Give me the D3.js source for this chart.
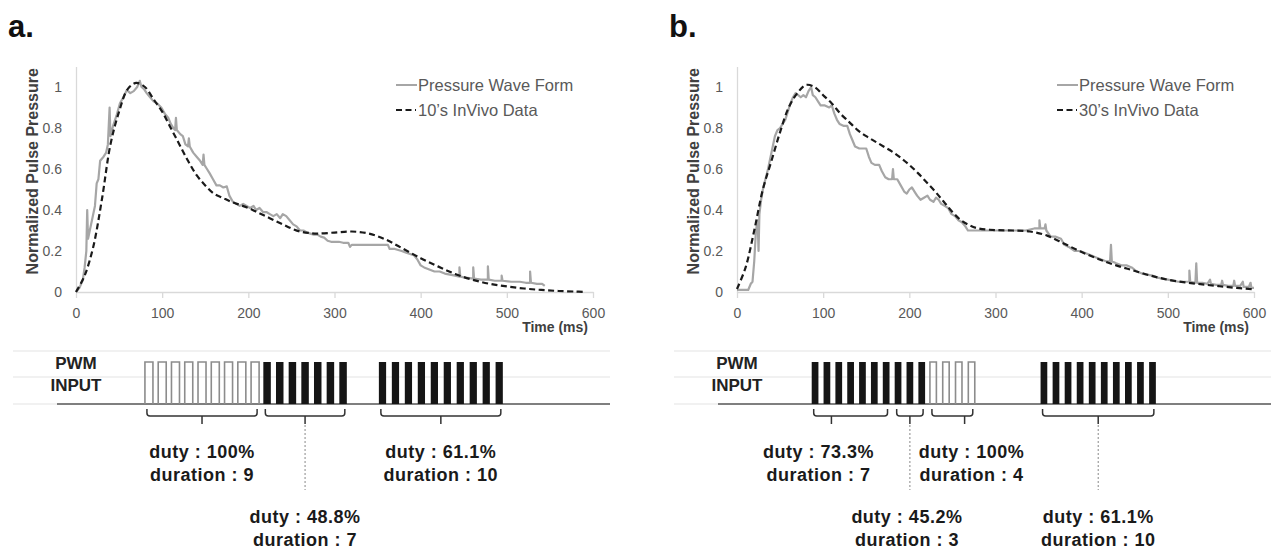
<!DOCTYPE html>
<html lang="en">
<head>
<meta charset="UTF-8">
<title>Pressure Wave Form vs PWM Input</title>
<script src="https://d3js.org/d3.v7.min.js"></script>
<style>
  body { margin: 0; background: #fff; font-family: "Liberation Sans", Arial, sans-serif; }
  svg { display: block; }
  .axis path, .axis line { stroke: #d9d9d9; stroke-width: 1.3px; }
  .axis text { fill: #595959; font-size: 14px; font-family: "Liberation Sans", Arial, sans-serif; }
  .panel-letter { font-size: 31px; font-weight: bold; fill: #111; }
  .y-title { font-size: 16px; font-weight: bold; fill: #404040; text-anchor: middle; }
  .x-title { font-size: 14px; font-weight: bold; fill: #404040; text-anchor: end; }
  .legend-text { font-size: 16.5px; fill: #595959; }
  .wave { fill: none; stroke: #a6a6a6; stroke-width: 2.2px; stroke-linejoin: round; }
  .fit { fill: none; stroke: #1a1a1a; stroke-width: 2.2px; stroke-dasharray: 6 3.5; }
  .strip { stroke: #ececec; stroke-width: 1.5px; }
  .baseline { stroke: #7f7f7f; stroke-width: 2px; }
  .pwm-label { font-size: 17px; font-weight: bold; fill: #222; text-anchor: middle; }
  .pulse-on { fill: #151515; }
  .pulse-hollow { fill: none; stroke: #8c8c8c; stroke-width: 1.6px; }
  .bracket { fill: none; stroke: #333; stroke-width: 1.5px; }
  .guide { stroke: #888; stroke-width: 1px; stroke-dasharray: 2 2; }
  .duty { font-size: 18px; font-weight: bold; fill: #1a1a1a; text-anchor: middle; letter-spacing: 0.5px; }
</style>
</head>
<body>
<svg id="fig" width="1271" height="550"></svg>
<script>
// axis ticks
const xTicks = [0, 100, 200, 300, 400, 500, 600];
const yTicks = [0, 0.2, 0.4, 0.6, 0.8, 1];

// panel a: measured pressure wave [ms, normalized]
const waveA = [[0,0],[4,0.02],[8,0.06],[10,0.12],[12,0.2],[13,0.4],[14,0.26],[16,0.3],[19,0.36],[22,0.42],[24,0.53],[26,0.55],
  [28,0.64],[32,0.66],[35,0.68],[37,0.72],[39,0.9],[40,0.76],[43,0.81],[47,0.86],[51,0.92],[55,0.95],[59,0.985],[63,0.97],
  [67,0.98],[71,1.0],[74,1.03],[76,1.0],[79,0.99],[82,0.97],[86,0.95],[90,0.93],[94,0.92],[99,0.9],[103,0.87],[107,0.85],
  [110,0.82],[113,0.8],[115,0.79],[116,0.85],[117,0.79],[121,0.77],[124,0.76],[127,0.72],[130,0.71],[131,0.75],[132,0.71],
  [136,0.68],[140,0.66],[144,0.64],[147,0.62],[148,0.67],[149,0.62],[152,0.6],[155,0.58],[159,0.55],[163,0.52],[167,0.52],
  [171,0.51],[175,0.515],[178,0.47],[182,0.44],[186,0.43],[190,0.42],[194,0.43],[198,0.42],[202,0.41],[206,0.42],[209,0.4],
  [213,0.41],[217,0.39],[221,0.39],[225,0.38],[229,0.37],[233,0.38],[237,0.36],[240,0.38],[244,0.37],[248,0.35],[252,0.33],
  [256,0.32],[260,0.3],[264,0.3],[268,0.29],[272,0.285],[276,0.28],[280,0.28],[284,0.27],[288,0.265],[292,0.25],[296,0.245],
  [305,0.245],[310,0.24],[316,0.24],[318,0.22],[320,0.23],[330,0.23],[340,0.23],[350,0.23],[362,0.23],[364,0.21],[370,0.21],
  [378,0.2],[384,0.19],[392,0.18],[396,0.16],[400,0.13],[404,0.12],[410,0.11],[416,0.1],[422,0.1],[428,0.09],[434,0.085],
  [440,0.08],[445,0.075],[445,0.12],[446,0.075],[452,0.07],[461,0.065],[461,0.12],[462,0.065],[470,0.06],[478,0.06],
  [478,0.125],[479,0.06],[486,0.055],[494,0.055],[494,0.08],[495,0.055],[505,0.05],[515,0.05],[522,0.045],[527,0.045],
  [527,0.1],[528,0.045],[535,0.04],[541,0.04],[544,0.03]];

// panel a: 10's in vivo reference
const invivoA = [[0,0],[10,0.08],[20,0.22],[30,0.45],[40,0.72],[50,0.88],[60,0.99],[70,1.02],[80,1.0],[90,0.94],[100,0.88],
  [110,0.8],[120,0.72],[130,0.64],[140,0.57],[150,0.52],[160,0.48],[170,0.46],[180,0.44],[190,0.425],[200,0.41],[210,0.39],
  [220,0.37],[230,0.35],[240,0.33],[250,0.31],[260,0.295],[270,0.288],[280,0.285],[300,0.29],[320,0.295],[340,0.285],
  [360,0.255],[380,0.21],[400,0.165],[420,0.125],[440,0.088],[460,0.06],[480,0.04],[500,0.027],[520,0.017],[540,0.01],
  [560,0.005],[580,0.002],[590,0]];

// panel b: measured pressure wave
const waveB = [[0,0.01],[5,0.01],[10,0.01],[13,0.01],[16,0.04],[18,0.05],[20,0.15],[22,0.3],[24,0.35],[25,0.2],[26,0.38],
  [28,0.45],[30,0.5],[33,0.55],[36,0.6],[38,0.64],[41,0.7],[44,0.76],[47,0.79],[50,0.8],[53,0.82],[56,0.84],[59,0.88],
  [62,0.92],[65,0.95],[68,0.97],[71,0.96],[74,0.95],[77,0.96],[80,0.95],[83,0.98],[86,1.0],[88,0.96],[91,0.95],[94,0.93],
  [97,0.91],[102,0.91],[107,0.9],[110,0.91],[113,0.87],[116,0.84],[119,0.82],[124,0.81],[128,0.81],[131,0.77],[134,0.74],
  [137,0.71],[142,0.7],[147,0.7],[150,0.7],[153,0.66],[156,0.63],[160,0.62],[165,0.62],[168,0.59],[172,0.56],[176,0.55],
  [180,0.55],[181,0.6],[182,0.55],[186,0.55],[190,0.52],[194,0.49],[197,0.48],[200,0.5],[203,0.51],[206,0.49],[209,0.47],
  [213,0.45],[217,0.46],[221,0.47],[224,0.45],[228,0.44],[231,0.46],[234,0.45],[237,0.43],[241,0.42],[245,0.41],[249,0.38],
  [253,0.37],[257,0.35],[261,0.34],[265,0.32],[268,0.3],[275,0.3],[290,0.3],[305,0.3],[320,0.3],[335,0.3],[345,0.31],
  [351,0.31],[351,0.35],[352,0.31],[357,0.31],[358,0.33],[359,0.3],[364,0.27],[370,0.27],[376,0.26],[380,0.23],[385,0.22],
  [392,0.2],[398,0.2],[404,0.19],[410,0.18],[416,0.17],[422,0.16],[428,0.15],[433,0.15],[434,0.23],[435,0.15],[440,0.14],
  [446,0.13],[452,0.13],[458,0.12],[464,0.1],[470,0.09],[476,0.085],[482,0.08],[488,0.07],[494,0.065],[500,0.06],
  [506,0.055],[512,0.05],[518,0.05],[525,0.05],[525,0.105],[526,0.05],[532,0.045],[533,0.14],[534,0.045],[540,0.045],
  [546,0.04],[549,0.06],[550,0.04],[556,0.035],[562,0.035],[563,0.055],[564,0.035],[570,0.03],[576,0.03],[577,0.055],
  [578,0.03],[584,0.03],[587,0.05],[588,0.025],[594,0.025],[596,0.045],[597,0.02],[600,0.02]];

// panel b: 30's in vivo reference
const invivoB = [[0,0.015],[10,0.12],[20,0.3],[30,0.5],[40,0.64],[50,0.78],[60,0.9],[70,0.97],[80,1.01],[90,1.0],[100,0.96],
  [110,0.92],[120,0.87],[130,0.83],[140,0.79],[150,0.76],[160,0.735],[170,0.71],[180,0.685],[190,0.655],[200,0.62],
  [210,0.58],[220,0.535],[230,0.49],[240,0.44],[250,0.39],[260,0.35],[270,0.325],[280,0.31],[300,0.302],[320,0.3],
  [340,0.295],[360,0.275],[380,0.235],[400,0.195],[420,0.16],[440,0.13],[460,0.105],[480,0.08],[500,0.06],[520,0.047],
  [540,0.037],[560,0.028],[580,0.02],[600,0.013]];

// PWM pulse groups (start/period/on in ms on the time axis)
const pwmA = [
  { duty: "100%",  duration: 9,  start: 80,    period: 15.4,  on: 9.3, hollow: true,  tick: 0.5,  dx: 0,   row: 0 },
  { duty: "48.8%", duration: 7,  start: 217.4, period: 14.7,  on: 8.7, hollow: false, tick: 0.5,  dx: 0,   row: 1 },
  { duty: "61.1%", duration: 10, start: 351.5, period: 15.05, on: 8.4, hollow: false, tick: 0.5,  dx: 0,   row: 0 }
];
const pwmB = [
  { duty: "73.3%", duration: 7,  start: 86.7,  period: 13.75, on: 7.8, hollow: false, tick: 0.24, dx: -13, row: 0 },
  { duty: "45.2%", duration: 3,  start: 183,   period: 13.75, on: 7.8, hollow: false, tick: 0.5,  dx: -3,  row: 1 },
  { duty: "100%",  duration: 4,  start: 223.9, period: 14.85, on: 7.5, hollow: true,  tick: 0.8,  dx: 7,   row: 0 },
  { duty: "61.1%", duration: 10, start: 352.3, period: 14.0,  on: 7.8, hollow: false, tick: 0.5,  dx: 0,   row: 1 }
];

const panels = [
  { letter: "a.", left: 76,  legend: "10\u2019s InVivo Data", wave: waveA, fit: invivoA, pwm: pwmA },
  { letter: "b.", left: 737, legend: "30\u2019s InVivo Data", wave: waveB, fit: invivoB, pwm: pwmB }
];

const svg = d3.select("#fig");
const plotW = 517, plotTop = 66.5, plotBottom = 292;
const pulseTop = 362, pulseBase = 404;
const rowY = [[458, 481], [523, 546]];

panels.forEach(p => {
  const g = svg.append("g");
  const x = d3.scaleLinear().domain([0, 600]).range([p.left, p.left + plotW]);
  const y = d3.scaleLinear().domain([0, 1.1]).range([plotBottom, plotTop]);

  g.append("text").attr("class", "panel-letter")
    .attr("x", p.left - 68).attr("y", 37).text(p.letter);

  // axes
  g.append("g").attr("class", "axis")
    .attr("transform", `translate(0,${plotBottom})`)
    .call(d3.axisBottom(x).tickValues(xTicks).tickSize(6).tickSizeOuter(0).tickPadding(10).tickFormat(d3.format("d")));
  g.append("g").attr("class", "axis")
    .attr("transform", `translate(${p.left},0)`)
    .call(d3.axisLeft(y).tickValues(yTicks).tickSize(0).tickSizeOuter(0).tickPadding(14).tickFormat(d => d === 0 || d === 1 ? d : d.toFixed(1)));

  g.append("text").attr("class", "y-title")
    .attr("transform", `translate(${p.left - 44},${(plotTop + plotBottom) / 2 - 8}) rotate(-90)`)
    .attr("dy", "0.35em")
    .text("Normalized  Pulse Pressure");
  g.append("text").attr("class", "x-title")
    .attr("x", p.left + 512).attr("y", 332).text("Time (ms)");

  // curves
  const line = d3.line().x(d => x(d[0])).y(d => y(d[1]));
  g.append("path").attr("class", "wave").attr("d", line(p.wave));
  g.append("path").attr("class", "fit").attr("d", line.curve(d3.curveCatmullRom)(p.fit));

  // legend
  const lx = p.left + 320;
  g.append("line").attr("x1", lx).attr("x2", lx + 21).attr("y1", 85).attr("y2", 85)
    .attr("stroke", "#a6a6a6").attr("stroke-width", 2);
  g.append("text").attr("class", "legend-text").attr("x", lx + 22).attr("y", 85).attr("dy", "0.35em")
    .text("Pressure Wave Form");
  g.append("line").attr("class", "fit").attr("x1", lx).attr("x2", lx + 20).attr("y1", 110).attr("y2", 110)
    .attr("stroke-dasharray", "5 3");
  g.append("text").attr("class", "legend-text").attr("x", lx + 22).attr("y", 110).attr("dy", "0.35em")
    .text(p.legend);

  // PWM strip
  [351, 377, 404].forEach(yy => {
    g.append("line").attr("class", "strip")
      .attr("x1", p.left - 63).attr("x2", p.left + 534).attr("y1", yy).attr("y2", yy);
  });
  g.append("line").attr("class", "baseline")
    .attr("x1", p.left - 19).attr("x2", p.left + 534).attr("y1", pulseBase).attr("y2", pulseBase);
  g.append("text").attr("class", "pwm-label").attr("x", p.left).attr("y", 369).text("PWM");
  g.append("text").attr("class", "pwm-label").attr("x", p.left).attr("y", 391).text("INPUT");

  p.pwm.forEach(grp => {
    const starts = d3.range(grp.duration).map(i => grp.start + i * grp.period);
    if (grp.hollow) {
      const d = starts.map(s => `M${x(s)},${pulseBase}V${pulseTop}H${x(s + grp.on)}V${pulseBase}`).join("");
      g.append("path").attr("class", "pulse-hollow").attr("d", d);
    } else {
      g.selectAll(null).data(starts).join("rect")
        .attr("class", "pulse-on")
        .attr("x", s => x(s)).attr("y", pulseTop)
        .attr("width", x(grp.on) - x(0)).attr("height", pulseBase - pulseTop);
    }
    // bracket
    const x0 = x(grp.start) + 2;
    const x1 = x(starts[starts.length - 1] + grp.on) - 2;
    const xt = x0 + (x1 - x0) * grp.tick;
    g.append("path").attr("class", "bracket")
      .attr("d", `M${x0},409V413Q${x0},416 ${x0 + 3},416H${x1 - 3}Q${x1},416 ${x1},413V409M${xt},416V424`);
    if (grp.row === 1) {
      g.append("line").attr("class", "guide")
        .attr("x1", xt).attr("x2", xt).attr("y1", 425).attr("y2", 490);
    }
    const ry = rowY[grp.row];
    g.append("text").attr("class", "duty").attr("x", xt + grp.dx).attr("y", ry[0]).text(`duty : ${grp.duty}`);
    g.append("text").attr("class", "duty").attr("x", xt + grp.dx).attr("y", ry[1]).text(`duration : ${grp.duration}`);
  });
});
</script>
</body>
</html>
